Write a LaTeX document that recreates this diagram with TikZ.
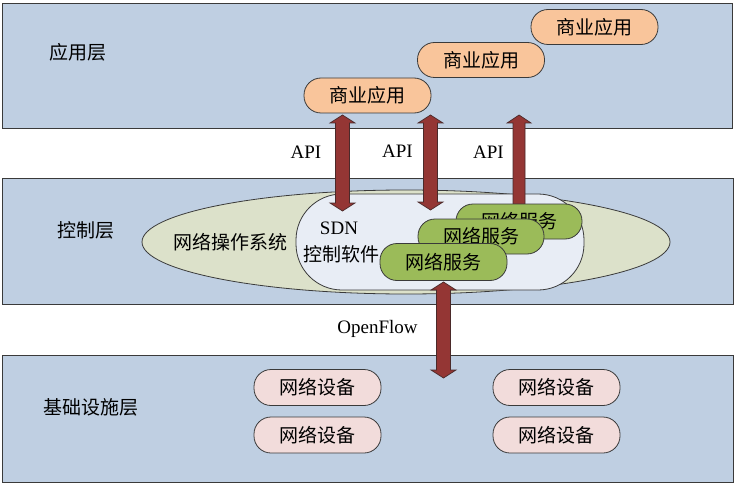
\documentclass[tikz,border=0pt]{standalone}
\usepackage{fontspec}
\setmainfont{Liberation Serif}
\newfontfamily\cjk{Noto Sans CJK SC}
\usetikzlibrary{shapes.geometric,calc}
\definecolor{layerfill}{HTML}{BFCFE2}
\definecolor{osfill}{HTML}{DCE1CA}
\definecolor{sdnfill}{HTML}{E8EDF5}
\definecolor{appfill}{HTML}{F9C59B}
\definecolor{svcfill}{HTML}{9BBB59}
\definecolor{devfill}{HTML}{F2DCDB}
\definecolor{arrowfill}{HTML}{943634}
\definecolor{arrowline}{HTML}{4A2A2A}
\definecolor{edge}{HTML}{3A3A3A}
\tikzset{
  layer/.style={draw=edge, line width=0.9pt, fill=layerfill},
  pill/.style={rectangle, rounded corners=17pt, minimum width=127pt, minimum height=35pt,
    draw=edge, line width=0.8pt, inner sep=0pt, font=\cjk\fontsize{19}{23}\selectfont},
  appbox/.style={pill, fill=appfill},
  svcbox/.style={pill, fill=svcfill},
  devbox/.style={pill, fill=devfill},
  lbl/.style={font=\cjk\fontsize{19}{23}\selectfont, inner sep=0pt},
  latin/.style={font=\fontsize{19}{23}\selectfont, inner sep=0pt},
  barrow/.style={fill=arrowfill, draw=arrowline, line width=0.7pt},
}
\newcommand\blkdouble[2]{%
  \path[barrow] let \p1=(#1), \p2=(#2) in
    (\x1,\y1) -- (\x1+12.5pt,\y1-8pt) -- (\x1+7pt,\y1-8pt) -- (\x1+7pt,\y2+8pt)
    -- (\x1+12.5pt,\y2+8pt) -- (\x1,\y2) -- (\x1-12.5pt,\y2+8pt) -- (\x1-7pt,\y2+8pt)
    -- (\x1-7pt,\y1-8pt) -- (\x1-12.5pt,\y1-8pt) -- cycle;}
\newcommand\blkup[2]{%
  \path[barrow] let \p1=(#1), \p2=(#2) in
    (\x1,\y1) -- (\x1+12pt,\y1-8pt) -- (\x1+6pt,\y1-8pt) -- (\x1+6pt,\y2)
    -- (\x1-6pt,\y2) -- (\x1-6pt,\y1-8pt) -- (\x1-12pt,\y1-8pt) -- cycle;}
\begin{document}
\begin{tikzpicture}[x=1pt,y=-1pt]
\useasboundingbox (0,0) rectangle (736,484);
% layers
\draw[layer] (2.5,3) rectangle (732,128);
\draw[layer] (2.5,178) rectangle (733,304);
\draw[layer] (2.5,355) rectangle (733,482);
\node[lbl] (lapp) at (78,52) {应用层};
\node[lbl] (lctrl) at (86,230) {控制层};
\node[lbl] (linfra) at (91,407) {基础设施层};
% control layer content
\node[ellipse, draw=edge, line width=0.8pt, fill=osfill, minimum width=528pt, minimum height=104pt, inner sep=0pt] (os) at (406,242) {};
\node[rectangle, rounded corners=46pt, draw=edge, line width=0.8pt, fill=sdnfill, minimum width=288pt, minimum height=96pt] (sdn) at (440,242) {};
\node[lbl] (nos) at (230,242) {网络操作系统};
\node[latin] (sdnt) at (339,228) {SDN};
\node[lbl] (sdnc) at (341,254) {控制软件};
% API arrows
\coordinate (a1t) at (342.5,115); \coordinate (a1b) at (342.5,211);
\coordinate (a2t) at (430.5,115); \coordinate (a2b) at (430.5,210);
\coordinate (a3t) at (519,115);   \coordinate (a3b) at (519,215);
\blkdouble{a1t}{a1b}
\blkdouble{a2t}{a2b}
\blkup{a3t}{a3b}
\node[latin] (api1) at (306,152) {API};
\node[latin] (api2) at (397.5,151) {API};
\node[latin] (api3) at (488.5,152) {API};
% network services
\node[svcbox, minimum width=126pt] (s3) at (519,221.5) {网络服务};
\node[svcbox, minimum width=126pt] (s2) at (481,236.5) {网络服务};
\node[svcbox, minimum height=37pt] (s1) at (443.5,262) {网络服务};
% OpenFlow arrow
\coordinate (a4t) at (443.5,282); \coordinate (a4b) at (443.5,378);
\blkdouble{a4t}{a4b}
\node[latin] (of) at (377.5,329) {OpenFlow};
% applications
\node[appbox] (app1) at (367.5,95.5) {商业应用};
\node[appbox] (app2) at (481,60) {商业应用};
\node[appbox] (app3) at (594.5,27) {商业应用};
% devices
\node[devbox, minimum height=36pt] (d1) at (317.5,387.5) {网络设备};
\node[devbox, minimum height=36pt] (d2) at (317.5,435) {网络设备};
\node[devbox, minimum height=36pt] (d3) at (556.5,387.5) {网络设备};
\node[devbox, minimum height=36pt] (d4) at (556.5,435) {网络设备};
\end{tikzpicture}
\end{document}
